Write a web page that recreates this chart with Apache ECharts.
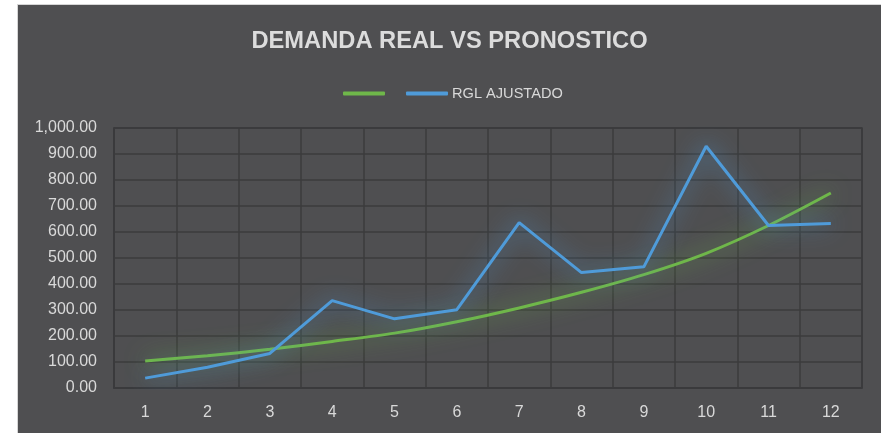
<!DOCTYPE html>
<html>
<head>
<meta charset="utf-8">
<script src="https://cdn.jsdelivr.net/npm/echarts@6/dist/echarts.min.js"></script>
<style>
  html, body { margin: 0; padding: 0; background: #ffffff; width: 881px; height: 433px; overflow: hidden; }
  #chart { position: absolute; left: 17px; top: 4px; width: 863px; height: 428px;
           border-left: 1px solid #d6d6d6; border-top: 1px solid #d6d6d6; background: #4f4f51; }
</style>
</head>
<body>
<div id="chart"></div>
<script>
// Periods on the x axis
const periods = ['1', '2', '3', '4', '5', '6', '7', '8', '9', '10', '11', '12'];
// Trend (forecast) curve
const pronostico = [104, 124, 149, 179, 211, 255, 308, 368, 436, 518, 625, 750];
// Adjusted real demand
const rglAjustado = [38, 80, 133, 336, 266, 301, 636, 444, 466, 930, 625, 633];

const textColor = '#d9d9d9';
const gridColor = '#3b3b3d';
const fontFam = '"Liberation Sans", Arial, sans-serif';

const chart = echarts.init(document.getElementById('chart'), null, { renderer: 'canvas' });

chart.setOption({
  backgroundColor: '#4f4f51',
  animation: false,
  title: {
    text: 'DEMANDA REAL VS PRONOSTICO',
    left: 'center',
    top: 19,
    textStyle: { color: '#dcdcdc', fontSize: 23.7, fontWeight: 'bold', fontFamily: fontFam }
  },
  legend: {
    left: 320,
    top: 76,
    itemWidth: 42,
    itemHeight: 4,
    itemGap: 21,
    icon: 'roundRect',
    data: ['PRONOSTICO', 'RGL AJUSTADO'],
    formatter: name => (name === 'PRONOSTICO' ? '' : name),
    textStyle: { color: textColor, fontSize: 14.6, fontFamily: fontFam, padding: [0, 0, 0, -1] }
  },
  grid: { left: 96, right: 19, top: 123, bottom: 45, show: true, borderColor: gridColor, borderWidth: 1.5 },
  xAxis: {
    type: 'category',
    data: periods,
    boundaryGap: true,
    axisLine: { lineStyle: { color: gridColor, width: 1.5 } },
    axisTick: { show: false },
    splitLine: { show: true, lineStyle: { color: gridColor, width: 1.5 } },
    axisLabel: { color: textColor, fontSize: 16, fontFamily: fontFam, margin: 17 }
  },
  yAxis: {
    type: 'value',
    min: 0,
    max: 1000,
    interval: 100,
    axisLine: { show: true, lineStyle: { color: gridColor, width: 1.5 } },
    axisTick: { show: false },
    splitLine: { lineStyle: { color: gridColor, width: 1.5 } },
    axisLabel: {
      color: textColor, fontSize: 16, fontFamily: fontFam, margin: 17,
      formatter: v => v.toLocaleString('en-US', { minimumFractionDigits: 2, maximumFractionDigits: 2 })
    }
  },
  series: [
    {
      name: 'PRONOSTICO',
      type: 'line',
      data: pronostico,
      smooth: 0.3,
      symbol: 'none',
      color: '#6fb74a',
      lineStyle: { width: 3, color: '#6fb74a', shadowBlur: 22, shadowColor: '#6fb74a' }
    },
    {
      name: 'RGL AJUSTADO',
      type: 'line',
      data: rglAjustado,
      symbol: 'none',
      color: '#4f9bd9',
      lineStyle: { width: 3, color: '#4f9bd9', shadowBlur: 22, shadowColor: '#4f9bd9' }
    }
  ]
});
</script>
</body>
</html>
